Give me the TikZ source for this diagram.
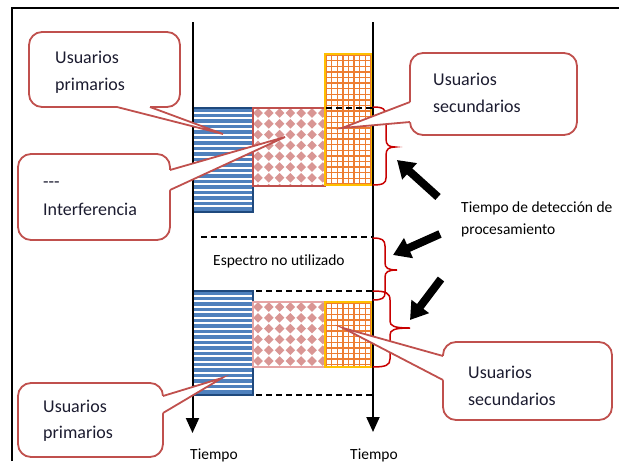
\documentclass[tikz,border=0pt]{standalone}
\usepackage{fontspec}
\setmainfont{Carlito}[Ligatures=NoCommon]
\usetikzlibrary{arrows.meta}

\definecolor{calloutred}{RGB}{192,80,77}
\definecolor{bracered}{RGB}{200,0,0}
\definecolor{stripeblue}{RGB}{79,129,189}
\definecolor{edgeblue}{RGB}{31,73,125}
\definecolor{diamondpink}{RGB}{217,150,148}
\definecolor{edgepink}{RGB}{192,80,77}
\definecolor{edgepinklight}{RGB}{230,165,165}
\definecolor{gridorange}{RGB}{237,125,49}
\definecolor{edgeyellow}{RGB}{255,192,0}
\definecolor{inktext}{RGB}{28,28,48}

\tikzset{
  frameline/.style={draw=black, line width=2.2pt},
  timeaxis/.style={draw=black, line width=2pt, -{Triangle[length=15pt,width=13pt]}},
  gapline/.style={draw=black, line width=1.3pt, dash pattern=on 6pt off 4pt},
  bracepath/.style={draw=bracered, line width=1.5pt, line cap=round},
  bigarrow/.style={draw=black, line width=8pt, -{Triangle[length=17pt,width=21pt]}},
  cbox/.style={draw=calloutred, line width=1.8pt, fill=white, rounded corners=13pt,
    inner sep=0pt, rectangle},
  wedgeline/.style={draw=calloutred, line width=1.8pt},
  bigtext/.style={anchor=base west, inner sep=0pt, text=inktext,
    font=\fontsize{18}{22}\selectfont},
  smalltext/.style={anchor=base west, inner sep=0pt, text=black,
    font=\fontsize{15.5}{19}\selectfont},
}

% striped block: primary users
\newcommand{\stripeblock}[4]{%
  \begin{scope}
    \clip (#1,#2) rectangle (#3,#4);
    \fill[white] (#1,#2) rectangle (#3,#4);
    \foreach \k in {0,...,20}
      \draw[stripeblue, line width=3.3pt] (#1,{#2+2+\k*5.5}) -- (#3,{#2+2+\k*5.5});
  \end{scope}
  \draw[edgeblue, line width=1.5pt] (#1,#2) rectangle (#3,#4);}

% diamond block: interference
\newcommand{\diamondblock}[5]{%
  \begin{scope}
    \clip (#1,#2) rectangle (#3,#4);
    \fill[white] (#1,#2) rectangle (#3,#4);
    \foreach \i in {0,...,7}
      \foreach \j in {0,...,8}
        \fill[diamondpink] ({#1+5+\i*10.8},{#2+5+\j*10.8}) ++(-4.8,0) -- ++(4.8,-4.8)
          -- ++(4.8,4.8) -- ++(-4.8,4.8) -- cycle;
  \end{scope}
  \draw[#5, line width=1.1pt] (#1,#2) rectangle (#3,#4);}

% grid block: secondary users
\newcommand{\gridblock}[4]{%
  \begin{scope}
    \clip (#1,#2) rectangle (#3,#4);
    \fill[white] (#1,#2) rectangle (#3,#4);
    \foreach \k in {0,...,9}
      \draw[gridorange, line width=1.4pt] ({#1+1+\k*5.6},#2) -- ({#1+1+\k*5.6},#4);
    \foreach \k in {0,...,24}
      \draw[gridorange, line width=1.4pt] (#1,{#2+1+\k*5.6}) -- (#3,{#2+1+\k*5.6});
  \end{scope}
  \draw[edgeyellow, line width=1.1pt] (#1,#2) rectangle (#3,#4);}

\begin{document}
\begin{tikzpicture}[x=1pt,y=-1pt]
\useasboundingbox (0,0) rectangle (619,461);

% outer frame
\draw[frameline] (12,461) -- (12,8) -- (619,8);

% upper band
\stripeblock{193}{108}{253}{212}
\diamondblock{253}{108}{325}{186}{edgepink}
\gridblock{325}{54}{372}{185}

% lower band
\stripeblock{193}{291}{253}{395}
\diamondblock{253}{302}{325}{367}{edgepinklight}
\gridblock{325}{302}{372}{367}

% unused spectrum limits
\draw[gapline] (326,108) -- (373,108);
\draw[gapline] (201,237) -- (373,237);
\draw[gapline] (256,291) -- (373,291);
\draw[gapline] (256,395) -- (373,395);

% time axes
\coordinate (axLtop) at (192.5,22);
\coordinate (axLend) at (192.5,433);
\coordinate (axRtop) at (373,22);
\coordinate (axRend) at (373,432);
\draw[timeaxis] (axLtop) -- (axLend);
\draw[timeaxis] (axRtop) -- (axRend);

% detection / processing braces
\draw[bracepath] (373,107) .. controls (383,107) and (386,109) .. (386,116) -- (386,139)
  .. controls (386,145) and (389,147) .. (395,147) .. controls (389,147) and (386,149) .. (386,155)
  -- (386,178) .. controls (386,183) and (383,185) .. (373,185);
\draw[bracepath] (373,238) .. controls (382,238) and (385,240) .. (385,246) -- (385,263)
  .. controls (385,268) and (388,270) .. (397,270) .. controls (388,270) and (385,272) .. (385,277)
  -- (385,293) .. controls (385,298) and (382,300) .. (373,300);
\draw[bracepath] (373,291) .. controls (386,291) and (390,293) .. (390,300) -- (390,321)
  .. controls (390,326) and (394,328) .. (410,328) .. controls (394,328) and (390,330) .. (390,335)
  -- (390,359) .. controls (390,365) and (386,367) .. (373,367);

% pointing arrows
\coordinate (p1s) at (438,197); \coordinate (p1e) at (397,160);
\coordinate (p2s) at (440,234); \coordinate (p2e) at (393,255);
\coordinate (p3s) at (441,279); \coordinate (p3e) at (410,320);
\draw[bigarrow] (p1s) -- (p1e);
\draw[bigarrow] (p2s) -- (p2e);
\draw[bigarrow] (p3s) -- (p3e);

% callout: primary users (top)
\node[cbox, minimum width=151pt, minimum height=75pt] (cb1) at (104.5,69.5) {};
\fill[white] (117,104) -- (117,107) -- (223,134) -- (150,107) -- (150,104) -- cycle;
\draw[wedgeline] (117,107) -- (223,134) -- (150,107);

% callout: interference
\node[cbox, minimum width=152pt, minimum height=86pt] (cb2) at (94,197) {};
\fill[white] (167,170) -- (170,170) -- (285,137) -- (170,190) -- (167,190) -- cycle;
\draw[wedgeline] (170,170) -- (285,137) -- (170,190);

% callout: secondary users (top)
\node[cbox, minimum width=167pt, minimum height=82pt] (cb3) at (493.5,94) {};
\fill[white] (413,102) -- (410,102) -- (342,128) -- (410,122) -- (413,122) -- cycle;
\draw[wedgeline] (410,102) -- (342,128) -- (410,122);

% callout: secondary users (bottom)
\node[cbox, minimum width=169pt, minimum height=78pt] (cb4) at (527.5,381) {};
\fill[white] (446,356) -- (443,356) -- (343,328) -- (443,380) -- (446,380) -- cycle;
\draw[wedgeline] (443,356) -- (343,328) -- (443,380);

% callout: primary users (bottom)
\node[cbox, minimum width=145pt, minimum height=74pt] (cb5) at (90.5,420) {};
\fill[white] (160,396) -- (163,396) -- (222,378) -- (163,413) -- (160,413) -- cycle;
\draw[wedgeline] (163,396) -- (222,378) -- (163,413);

% labels
\node[bigtext] (u1a) at (55,63) {Usuarios};
\node[bigtext] (u1b) at (55,90) {primarios};
\node[bigtext] (i1a) at (43,187) {\mbox{-}\mbox{-}\mbox{-}};
\node[bigtext] (i1b) at (43,215) {Interferencia};
\node[bigtext] (s1a) at (433,85) {Usuarios};
\node[bigtext] (s1b) at (433,112) {secundarios};
\node[bigtext] (s2a) at (468,378) {Usuarios};
\node[bigtext] (s2b) at (468,405) {secundarios};
\node[bigtext] (u2a) at (43,412) {Usuarios};
\node[bigtext] (u2b) at (43,438) {primarios};

\node[smalltext] (det1) at (461,212) {Tiempo de detección de};
\node[smalltext] (det2) at (461,234) {procesamiento};
\node[smalltext] (gap) at (213,265) {Espectro no utilizado};
\node[smalltext] (tL) at (190,459) {Tiempo};
\node[smalltext] (tR) at (350,459) {Tiempo};
\end{tikzpicture}
\end{document}
